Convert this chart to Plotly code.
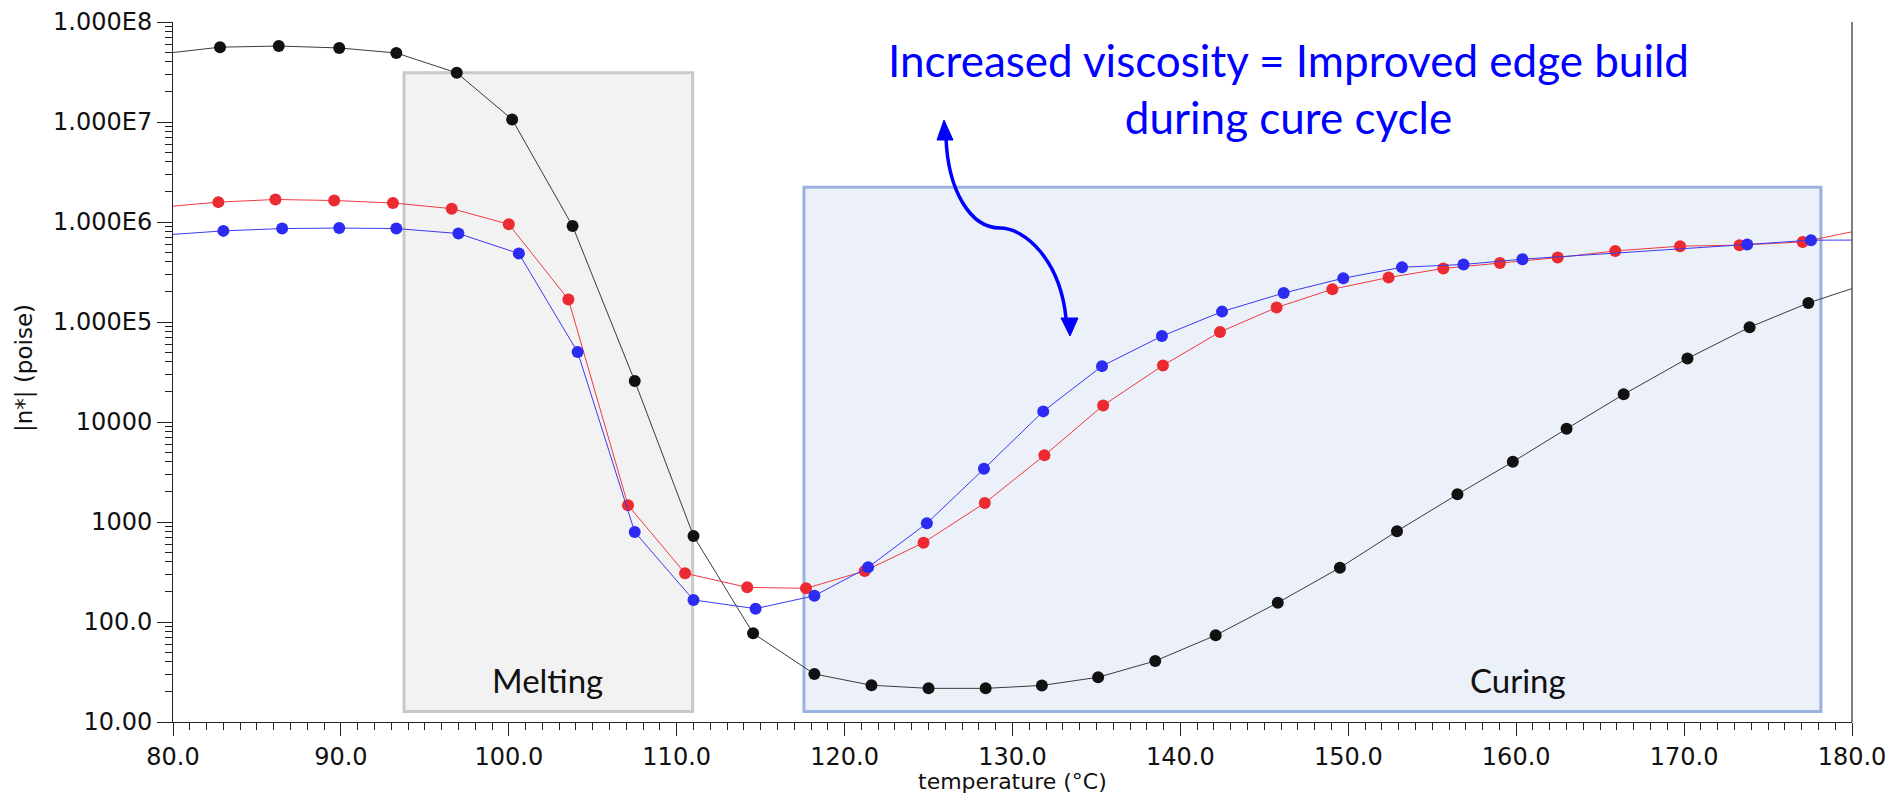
import plotly.graph_objects as go
import math

# ---------------- data ----------------
black_T = [79.3, 82.8, 86.3, 89.9, 93.3, 96.9, 100.2, 103.8, 107.5, 111.0, 114.55, 118.2,
           121.6, 125.0, 128.4, 131.75, 135.1, 138.5, 142.1, 145.8, 149.5, 152.9, 156.5,
           159.8, 163.0, 166.4, 170.2, 173.9, 177.4, 181.0]
black_eta = [4.8e7, 5.6e7, 5.75e7, 5.5e7, 4.9e7, 3.1e7, 1.06e7, 9.1e5, 2.57e4, 724, 77, 30.2,
             23.3, 21.7, 21.7, 23.2, 28, 40.8, 73.6, 156, 349, 810, 1890,
             4000, 8550, 18900, 43200, 88700, 155000, 245000]

red_T = [79.3, 82.7, 86.1, 89.6, 93.1, 96.6, 100.0, 103.55, 107.1, 110.5, 114.2, 117.7,
         121.2, 124.7, 128.35, 131.9, 135.4, 138.96, 142.36, 145.73, 149.05, 152.4,
         155.66, 159.03, 162.47, 165.9, 169.76, 173.3, 177.06, 180.5]
red_eta = [1.41e6, 1.58e6, 1.68e6, 1.64e6, 1.55e6, 1.36e6, 9.5e5, 1.68e5, 1470, 307, 222, 217,
           324, 621, 1550, 4640, 14650, 36800, 79500, 139700, 212700, 278600,
           343000, 390000, 441000, 514000, 573000, 587000, 632000, 830000]

blue_T = [79.3, 83.0, 86.5, 89.9, 93.3, 97.0, 100.6, 104.1, 107.5, 111.0, 114.7, 118.2,
          121.4, 124.9, 128.3, 131.83, 135.33, 138.9, 142.48, 146.15, 149.7, 153.2,
          156.86, 160.37, 173.76, 177.56, 181.0]
blue_eta = [7.38e5, 8.15e5, 8.6e5, 8.7e5, 8.6e5, 7.67e5, 4.84e5, 5.0e4, 794, 166, 136, 183,
            352, 970, 3400, 12770, 36200, 72300, 127000, 195000, 274000, 353000,
            376000, 425000, 596000, 658000, 660000]

y_tickvals = [10, 100, 1000, 10000, 1e5, 1e6, 1e7, 1e8]
y_ticktext = ["10.00", "100.0", "1000", "10000", "1.000E5", "1.000E6", "1.000E7", "1.000E8"]

# regions (temperature span, viscosity span)
melt_T = [93.76, 110.95]
melt_eta = [12.7, 3.1e7]
cure_T = [117.58, 178.15]
cure_eta = [12.7, 2.23e6]

# ---------------- layout geometry ----------------
W, H = 1891, 797
L, R, T, B = 173, 39, 22, 75
PW, PH = W - L - R, H - T - B
YLOG0, YLOG1 = 1, 8


def py_paper(v):
    return (math.log10(v) - YLOG0) / (YLOG1 - YLOG0)


def px2paper(x, y):
    return (x - L) / PW, (H - B - y) / PH


fig = go.Figure()

series = [
    (black_T, black_eta, "#111111", "#3a3a3a"),
    (red_T, red_eta, "#ec2a32", "#ee3a40"),
    (blue_T, blue_eta, "#2b2bf2", "#3a3af0"),
]
for xs, ys, mc, lc in series:
    fig.add_trace(go.Scatter(
        x=xs, y=ys, mode="lines+markers",
        line=dict(color=lc, width=1),
        marker=dict(color=mc, size=12, line=dict(width=0)),
        hoverinfo="x+y",
    ))

shapes = []
shapes.append(dict(type="rect", xref="x", yref="paper",
                   x0=melt_T[0], x1=melt_T[1], y0=py_paper(melt_eta[0]), y1=py_paper(melt_eta[1]),
                   fillcolor="#f2f2f2", line=dict(color="#c9c9c9", width=3), layer="below"))
shapes.append(dict(type="rect", xref="x", yref="paper",
                   x0=cure_T[0], x1=cure_T[1], y0=py_paper(cure_eta[0]), y1=py_paper(cure_eta[1]),
                   fillcolor="#ecf0f9", line=dict(color="#9ab2df", width=3), layer="below"))
shapes.append(dict(type="line", xref="paper", yref="paper", x0=1, x1=1, y0=0, y1=1.0,
                   line=dict(color="#555555", width=1.5)))

curve_px = [(946, 138), (948, 190), (970, 228), (1000, 228),
            (1025, 228), (1060, 260), (1066, 318)]
c = [px2paper(*p) for p in curve_px]
path = "M {} {} C {} {}, {} {}, {} {} C {} {}, {} {}, {} {}".format(
    c[0][0], c[0][1], c[1][0], c[1][1], c[2][0], c[2][1], c[3][0], c[3][1],
    c[4][0], c[4][1], c[5][0], c[5][1], c[6][0], c[6][1])
shapes.append(dict(type="path", xref="paper", yref="paper", path=path,
                   line=dict(color="#0000ff", width=3.5)))
for tri in [[(944, 120), (937, 140), (953, 140)], [(1070, 336), (1061, 318), (1078, 318)]]:
    p = [px2paper(*q) for q in tri]
    shapes.append(dict(type="path", xref="paper", yref="paper",
                       path="M {} {} L {} {} L {} {} Z".format(p[0][0], p[0][1], p[1][0], p[1][1], p[2][0], p[2][1]),
                       fillcolor="#0000ff", line=dict(color="#0000ff", width=1)))

annotations = [
    dict(text="Melting", xref="x", yref="paper", x=102.3, y=0.06, showarrow=False,
         font=dict(family="Lato", size=33, color="#111111"), xanchor="center", yanchor="middle"),
    dict(text="Curing", xref="x", yref="paper", x=160.1, y=0.06, showarrow=False,
         font=dict(family="Lato", size=33, color="#111111"), xanchor="center", yanchor="middle"),
    dict(text="Increased viscosity = Improved edge build<br>during cure cycle",
         xref="paper", yref="paper", x=px2paper(1288, 0)[0], y=px2paper(0, 88.5)[1],
         showarrow=False, align="center", xanchor="center", yanchor="middle",
         font=dict(family="Lato", size=44, color="#0000ff")),
    dict(text="temperature (°C)", xref="paper", yref="paper", x=0.5, y=px2paper(0, 781)[1],
         showarrow=False, xanchor="center", yanchor="middle",
         font=dict(family="DejaVu Sans", size=22, color="#111111")),
    dict(text="|n*| (poise)", xref="paper", yref="paper", x=px2paper(24, 0)[0], y=px2paper(0, 368)[1],
         showarrow=False, textangle=-90, xanchor="center", yanchor="middle",
         font=dict(family="DejaVu Sans", size=23, color="#111111")),
]

minor_y = [m * 10 ** e for e in range(1, 8) for m in range(2, 10)]

fig.update_layout(
    width=W, height=H, margin=dict(l=L, r=R, t=T, b=B, autoexpand=False),
    plot_bgcolor="white", paper_bgcolor="white", showlegend=False,
    shapes=shapes, annotations=annotations,
)
fig.update_xaxes(
    range=[80, 180], tickmode="linear", tick0=80, dtick=10, tickformat=".1f",
    ticks="outside", ticklen=13, tickwidth=1, tickcolor="#222222",
    showline=True, linecolor="#222222", linewidth=1, showgrid=False, zeroline=False,
    tickfont=dict(family="DejaVu Sans", size=24, color="#111111"),
    minor=dict(ticks="outside", ticklen=7, tickwidth=1, tickcolor="#222222", tickmode="linear", tick0=80, dtick=1, showgrid=False),
)
fig.update_yaxes(
    type="log", range=[YLOG0, YLOG1], tickmode="array", tickvals=y_tickvals, ticktext=y_ticktext,
    ticks="outside", ticklen=15, tickwidth=1, tickcolor="#222222",
    showline=True, linecolor="#222222", linewidth=1, showgrid=False, zeroline=False,
    tickfont=dict(family="DejaVu Sans", size=24, color="#111111"),
    minor=dict(ticks="outside", ticklen=7, tickwidth=1, tickcolor="#222222", tickmode="array", tickvals=minor_y, showgrid=False),
)

fig.write_html("out.html")
